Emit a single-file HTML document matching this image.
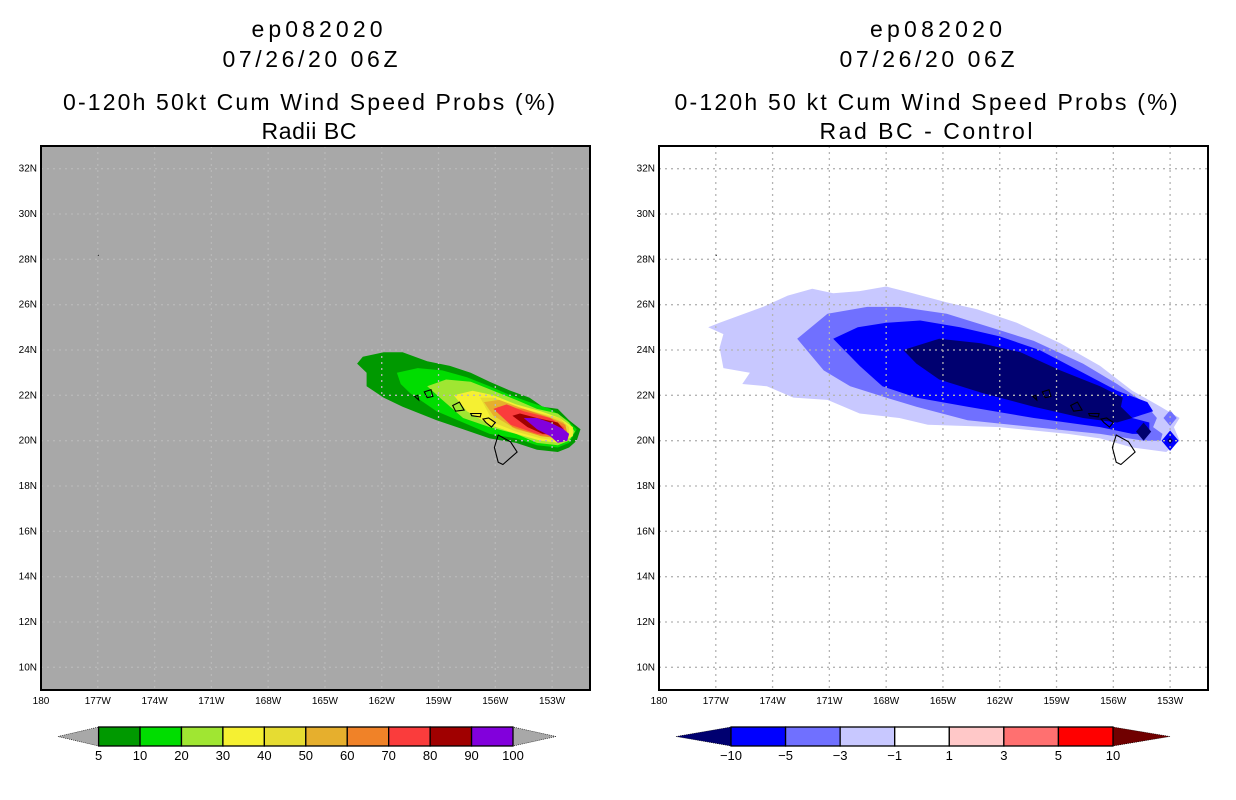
<!DOCTYPE html>
<html><head><meta charset="utf-8"><style>
html,body{margin:0;padding:0;background:#fff;}
svg{display:block;font-family:"Liberation Sans",sans-serif;}
</style></head><body>
<svg id="fig" width="1236" height="800" viewBox="0 0 1236 800" xmlns="http://www.w3.org/2000/svg">
<rect width="1236" height="800" fill="#fff"/>
<g font-size="23" text-anchor="middle" fill="#000">
<text x="317" y="37" textLength="131" lengthAdjust="spacing">ep082020</text>
<text x="310" y="67" textLength="175" lengthAdjust="spacing">07/26/20 06Z</text>
<text x="309" y="110" textLength="492" lengthAdjust="spacing">0-120h 50kt Cum Wind Speed Probs (%)</text>
<text x="309" y="139" textLength="95" lengthAdjust="spacing">Radii BC</text>
</g>
<g font-size="23" text-anchor="middle" fill="#000">
<text x="936" y="37" textLength="132" lengthAdjust="spacing">ep082020</text>
<text x="927" y="67" textLength="175" lengthAdjust="spacing">07/26/20 06Z</text>
<text x="926" y="110" textLength="503" lengthAdjust="spacing">0-120h 50 kt Cum Wind Speed Probs (%)</text>
<text x="926" y="139" textLength="213" lengthAdjust="spacing">Rad BC - Control</text>
</g>
<g id="left"></g>
<g id="right"></g>
<g id="cbars"></g>
</svg>
<script>
// ---- data: filled contour polygons, [degrees W, degrees N]
const probLevels = [5,10,20,30,40,50,60,70,80,90,100];
const probColors = ["#009900","#00dd00","#a0e632","#f5f032","#e6dc32","#e6af2d","#f08228","#fa3c3c","#a00000","#8200dc"];
const prob5 = [[163.3,23.4],[163.0,23.7],[161.9,23.9],[160.9,23.9],[159.6,23.5],[158.4,23.3],[157.3,23.0],[156.3,22.6],[155.2,22.2],[154.2,21.9],[153.5,21.5],[152.7,21.4],[152.1,20.9],[151.5,20.5],[151.7,20.0],[152.1,19.7],[152.7,19.5],[153.8,19.6],[154.9,19.9],[156.3,20.1],[157.7,20.5],[159.1,20.9],[160.9,21.5],[161.9,21.9],[162.8,22.4],[162.8,23.0]];
const prob10 = [[161.2,23.0],[160.1,23.2],[158.8,23.1],[157.5,22.8],[156.3,22.4],[155.2,22.0],[154.2,21.7],[153.1,21.4],[152.2,20.9],[151.7,20.5],[152.1,19.9],[152.7,19.7],[153.8,19.8],[154.9,20.1],[156.3,20.3],[157.7,20.8],[159.1,21.3],[160.5,22.1],[161.0,22.5]];
const prob20 = [[159.6,22.4],[158.6,22.7],[157.3,22.6],[156.1,22.2],[154.9,21.8],[153.8,21.4],[152.7,21.2],[152.1,20.8],[151.8,20.4],[152.1,20.0],[152.7,19.8],[153.8,19.9],[154.9,20.3],[156.3,20.6],[157.7,21.0],[158.8,21.8]];
const prob30 = [[158.2,22.0],[157.2,22.2],[156.1,22.0],[154.9,21.6],[153.6,21.3],[152.6,21.0],[151.9,20.6],[151.9,20.2],[152.6,19.9],[153.6,20.0],[154.9,20.3],[156.3,20.7],[157.5,21.3]];
const prob40 = [[156.8,21.9],[156.1,21.9],[154.9,21.5],[153.6,21.2],[152.6,21.0],[152.1,20.6],[152.1,20.2],[152.6,20.0],[153.6,20.1],[154.9,20.4],[156.1,20.8]];
const prob50 = [[156.6,21.7],[155.8,21.8],[154.5,21.4],[153.3,21.1],[152.4,20.8],[152.2,20.4],[152.4,20.1],[153.5,20.2],[154.9,20.5],[156.1,21.1]];
const prob60 = [[155.9,21.5],[154.5,21.4],[153.1,21.0],[152.3,20.7],[152.2,20.3],[152.6,20.1],[153.6,20.2],[155.1,20.6]];
const prob70 = [[156.1,21.4],[155.4,21.6],[154.5,21.3],[153.1,21.0],[152.4,20.6],[152.3,20.3],[152.7,20.2],[153.8,20.3],[155.2,20.7]];
const prob80 = [[155.1,21.1],[154.7,21.2],[153.8,21.0],[152.7,20.8],[152.4,20.5],[152.6,20.3],[153.5,20.3],[154.3,20.6]];
const prob90 = [[154.5,21.0],[153.8,21.0],[153.1,20.8],[152.4,20.5],[152.1,20.3],[152.2,20.0],[152.7,19.9],[153.1,20.2],[153.8,20.5]];
const probPolys = [prob5,prob10,prob20,prob30,prob40,prob50,prob60,prob70,prob80,prob90];

const diffLevels = [-10,-5,-3,-1,1,3,5,10];
const diffColors = ["#000070","#0000ff","#7070ff","#c8c8ff","#ffffff","#ffc8c8","#ff7070","#ff0000","#700000"];
const diffM1 = [[177.4,25.0],[176.8,25.2],[174.5,25.9],[173.2,26.4],[171.9,26.7],[170.8,26.5],[169.4,26.6],[168.0,26.8],[166.6,26.5],[164.8,26.1],[163.2,25.8],[161.1,25.2],[158.8,24.3],[156.7,23.3],[155.0,22.2],[153.5,21.5],[152.5,21.0],[152.8,20.6],[152.5,20.0],[153.2,19.5],[155.0,19.7],[156.7,20.1],[158.4,20.3],[162.0,20.6],[165.8,20.7],[167.3,21.0],[169.4,21.2],[171.1,21.8],[172.9,21.9],[174.3,22.4],[175.6,22.5],[175.2,23.0],[176.6,23.2],[176.8,24.1],[176.6,24.7]];
const diffM3 = [[172.7,24.5],[171.1,25.6],[169.0,25.9],[167.3,25.9],[164.8,25.6],[162.5,25.0],[160.2,24.4],[157.6,23.4],[155.8,22.5],[154.4,21.7],[153.7,21.0],[153.9,20.6],[153.4,20.3],[153.5,20.0],[154.4,20.0],[156.7,20.3],[160.2,20.6],[163.7,20.9],[166.4,21.5],[168.0,21.9],[169.9,22.4],[171.3,23.1]];
const diffM5 = [[170.8,24.5],[169.5,25.0],[168.0,25.2],[166.2,25.3],[164.1,25.0],[162.0,24.6],[159.9,24.0],[157.6,23.0],[155.8,22.2],[154.2,21.7],[153.9,21.3],[155.0,21.0],[154.1,20.8],[154.1,20.3],[155.0,20.3],[156.7,20.6],[160.2,21.0],[163.7,21.5],[166.4,21.9],[168.2,22.4],[169.4,23.3]];
const diffM10 = [[167.1,24.0],[165.2,24.5],[163.0,24.3],[160.9,23.9],[158.8,23.1],[156.7,22.4],[155.5,21.9],[155.6,21.5],[155.0,21.0],[155.8,20.8],[157.6,21.0],[160.2,21.5],[162.9,22.1],[165.2,22.7],[166.4,23.4]];
const diffPolys = [[diffM1,"#c8c8ff"],[diffM3,"#7070ff"],[diffM5,"#0000ff"],[diffM10,"#000070"]];
const diffCells = [[153.0,21.0,0.35,"#7070ff"],[153.0,20.0,0.45,"#0000ff"],[153.0,20.0,0.15,"#000070"],[154.4,20.4,0.4,"#000070"]];

const islands = [
 [[155.85,20.25],[155.2,19.95],[154.85,19.5],[155.6,18.95],[155.85,19.05],[156.05,19.7]],
 [[156.65,20.95],[156.35,21.0],[156.0,20.8],[156.2,20.6],[156.5,20.8]],
 [[157.3,21.2],[156.75,21.2],[156.8,21.05],[157.25,21.1]],
 [[158.25,21.55],[157.9,21.7],[157.65,21.35],[158.1,21.3]],
 [[159.75,22.15],[159.4,22.25],[159.3,21.95],[159.6,21.9]],
 [[160.25,21.95],[160.1,22.0],[160.05,21.8]]
];

const lonTicks = [180,177,174,171,168,165,162,159,156,153];
const lonLabels = ["180","177W","174W","171W","168W","165W","162W","159W","156W","153W"];
const latTicks = [10,12,14,16,18,20,22,24,26,28,30,32];

const NS="http://www.w3.org/2000/svg";
function el(tag,attrs,parent){const e=document.createElementNS(NS,tag);for(const k in attrs)e.setAttribute(k,attrs[k]);parent.appendChild(e);return e;}

const Y0=146,Y1=690,LATMIN=9,LATMAX=33,PXDEG=18.93;
function drawPanel(g, x0, bg, name){
  const xOf = w => x0 + (180 - w) * PXDEG;
  const yOf = n => Y0 + (LATMAX - n) * (Y1 - Y0) / (LATMAX - LATMIN);
  const pts = poly => poly.map(p => xOf(p[0]).toFixed(1)+","+yOf(p[1]).toFixed(1)).join(" ");
  const defs=el("defs",{},g);
  const cp=el("clipPath",{id:"clip-"+name},defs);
  el("rect",{x:x0,y:Y0,width:549,height:Y1-Y0},cp);
  const bgr=el("rect",{x:x0,y:Y0,width:549,height:Y1-Y0,fill:bg},g);
  
  
  const sh=el("g",{"clip-path":"url(#clip-"+name+")"},g);
  
  
  if(name==="left"){
    probPolys.forEach((poly,i)=>{
      const p=el("polygon",{points:pts(poly),fill:probColors[i]},sh);
      
      
    });
  } else {
    diffPolys.forEach(d=>{
      const p=el("polygon",{points:pts(d[0]),fill:d[1]},sh);
      
      
    });
    diffCells.forEach(c=>{
      const d=el("polygon",{points:pts([[c[0]+c[2],c[1]],[c[0],c[1]+c[2]],[c[0]-c[2],c[1]],[c[0],c[1]-c[2]]]),fill:c[3]},sh);
      
      
    });
  }
  const grid=el("g",{stroke:bg==="#fff"?"#b4b4b4":"#b8b8b8","stroke-width":1.3,"stroke-dasharray":"2,4"},g);
  
  
  lonTicks.forEach(t=>{ if(t<180) el("line",{x1:xOf(t),x2:xOf(t),y1:Y0,y2:Y1},grid); });
  latTicks.forEach(t=>el("line",{x1:x0,x2:x0+549,y1:yOf(t),y2:yOf(t)},grid));
  const co=el("g",{fill:"none",stroke:"#000","stroke-width":1.1},g);
  
  
  islands.forEach(is=>el("polygon",{points:pts(is)},co));
  el("rect",{x:xOf(177),y:yOf(28.2),width:1,height:1,fill:"#000"},g);
  const fr=el("rect",{x:x0,y:Y0,width:549,height:Y1-Y0,fill:"none",stroke:"#000","stroke-width":2},g);
  
  
  const ax=el("g",{"font-size":10,fill:"#000"},g);
  
  
  lonTicks.forEach((t,i)=>{
    const tx=el("text",{x:xOf(t),y:704,"text-anchor":"middle"},ax);
    
    
    tx.textContent=lonLabels[i];
  });
  latTicks.forEach(t=>{
    const tx=el("text",{x:x0-4,y:yOf(t)+3,"text-anchor":"end"},ax);
    
    
    tx.textContent=t+"N";
  });
}
drawPanel(document.getElementById("left"),41,"#a8a8a8","left");
drawPanel(document.getElementById("right"),659,"#fff","right");

const cb=document.getElementById("cbars");
function colorbar(x0,x1,tl,tr,cols,labels,lcol,rcol,name){
  const g=el("g",{},cb);
  
  
  const yT=727,yB=746,ym=(yT+yB)/2;
  const w=(x1-x0)/cols.length;
  el("polygon",{points:`${tl},${ym} ${x0},${yT} ${x0},${yB}`,fill:lcol,stroke:"#000","stroke-width":0.6,"stroke-dasharray":"1,1"},g);
  el("polygon",{points:`${tr},${ym} ${x1},${yT} ${x1},${yB}`,fill:rcol,stroke:"#000","stroke-width":0.6,"stroke-dasharray":"1,1"},g);
  cols.forEach((c,i)=>{
    const r=el("rect",{x:x0+i*w,y:yT,width:w,height:yB-yT,fill:c,stroke:"#000","stroke-width":1.3},g);
    
    
  });
  labels.forEach((l,i)=>{
    const t=el("text",{x:x0+i*w,y:760,"text-anchor":"middle","font-size":13},g);
    
    
    t.textContent=String(l).replace("-","\u2212");
  });
}
colorbar(98.6,513,58,556,probColors,probLevels,"#a8a8a8","#a8a8a8","left-colorbar");
colorbar(731,1113,676,1170,diffColors.slice(1,8),diffLevels,diffColors[0],diffColors[8],"right-colorbar");
</script>
</body></html>
